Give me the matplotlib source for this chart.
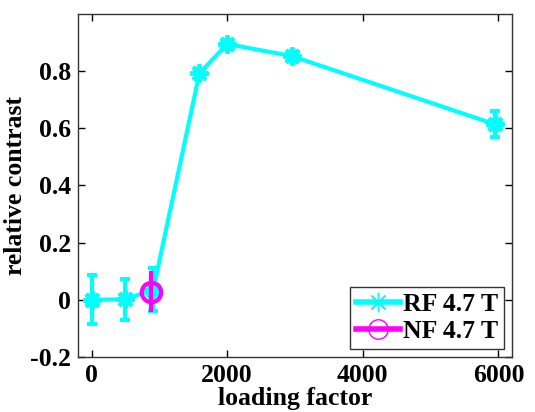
import matplotlib
matplotlib.use("Agg")
import matplotlib.pyplot as plt
from matplotlib.lines import Line2D

rf_x = [0, 500, 910, 1590, 2000, 2950, 5950]
rf_y = [0.0, 0.002, 0.036, 0.792, 0.895, 0.853, 0.614]
rf_err = [0.086, 0.072, 0.074, 0.012, 0.01, 0.01, 0.045]

nf_x = [880]
nf_y = [0.029]
nf_err = [0.072]

xticks = [0, 2000, 4000, 6000]
yticks = [-0.2, 0, 0.2, 0.4, 0.6, 0.8]
ytick_labels = ["-0.2", "0", "0.2", "0.4", "0.6", "0.8"]

plt.rcParams['font.family'] = ['Liberation Serif', 'DejaVu Serif']
plt.rcParams['font.weight'] = 'bold'

FS = 18.5

fig = plt.figure(figsize=(5.35, 4.12), dpi=100)
ax = fig.add_axes([78/535, 1 - 357/412, (512-78)/535, (357-14)/412])

cyan = '#00ffff'
mag = '#ff00ff'
ast = (8, 2, 0)

ax.errorbar(rf_x, rf_y, yerr=rf_err, color=cyan, lw=3.0, marker=ast,
            markersize=13, markeredgewidth=3.0, capsize=3.5, capthick=3.0,
            elinewidth=3.0, zorder=3)
ax.errorbar(nf_x, nf_y, yerr=nf_err, color=mag, lw=3.0, marker='o',
            markersize=14, markerfacecolor='none', markeredgewidth=3.0,
            capsize=0, elinewidth=3.0, zorder=4)

ax.set_xlim(-200, 6200)
ax.set_ylim(-0.2, 1.0)
ax.set_xticks(xticks)
ax.set_yticks(yticks)
ax.set_yticklabels(ytick_labels)
ax.tick_params(direction='in', top=True, right=True, length=5, width=1,
               labelsize=FS, pad=5)
for lab in ax.get_xticklabels() + ax.get_yticklabels():
    lab.set_fontweight('bold')
for s in ax.spines.values():
    s.set_linewidth(1)
    s.set_color('#333333')

ax.set_xlabel('loading factor', fontsize=FS, fontweight='bold', labelpad=0)
ax.set_ylabel('relative contrast', fontsize=FS, fontweight='bold', labelpad=2)

h1 = Line2D([], [], color=cyan, lw=4, marker=ast, markersize=14,
            markeredgewidth=1)
h2 = Line2D([], [], color=mag, lw=4, marker='o', markersize=14,
            markerfacecolor='none', markeredgewidth=1)
leg = ax.legend([h1, h2], ['RF 4.7 T', 'NF 4.7 T'], loc='lower right',
                frameon=True, fancybox=False, handlelength=1.7,
                handletextpad=0.1, borderpad=0.25, labelspacing=0.15,
                borderaxespad=0.3, prop={'weight': 'bold', 'size': FS})
leg.get_frame().set_edgecolor('black')
leg.get_frame().set_linewidth(1)

fig.savefig('out.png', dpi=100)
